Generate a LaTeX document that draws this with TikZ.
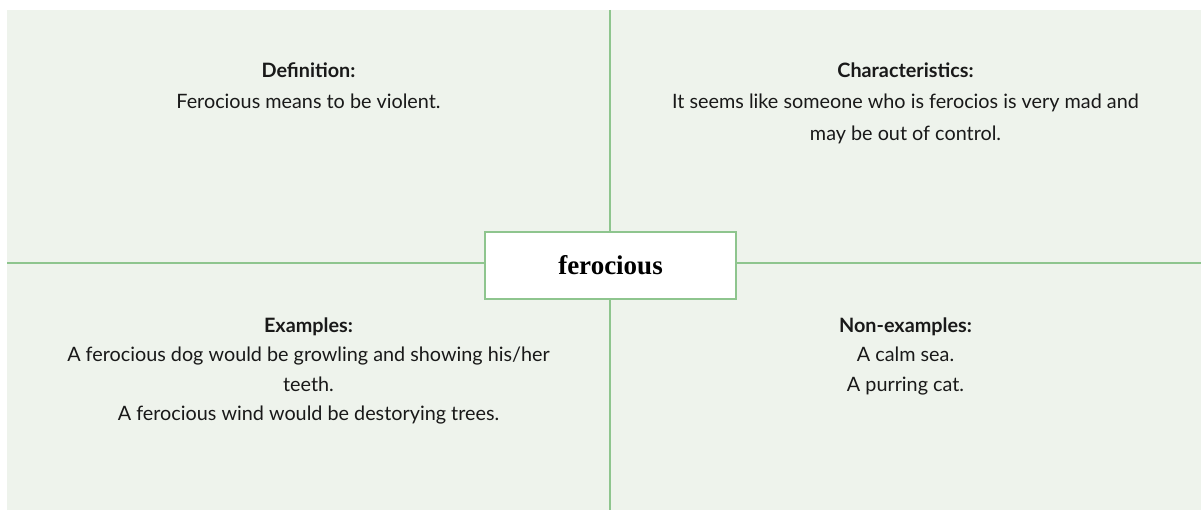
\documentclass[tikz,border=0pt]{standalone}
\usepackage{fontspec}
\setmainfont{Lato}
\newfontfamily\wordfont{Liberation Serif}
\definecolor{bgc}{HTML}{EEF3EC}
\definecolor{lnc}{HTML}{8EC58E}
\begin{document}
\begin{tikzpicture}[x=1pt,y=-1pt,
  txt/.style={align=center, inner sep=0pt, anchor=north, text=black!90},
  ln/.style={draw=lnc, line width=1.6pt}]
\useasboundingbox (0,0) rectangle (1201,510);
\fill[bgc] (7,10) rectangle (1201,510);
\coordinate (top) at (610,10);
\coordinate (bot) at (610,510);
\coordinate (lft) at (7,263);
\coordinate (rgt) at (1201,263);
\node[draw=lnc, line width=1.6pt, fill=white, minimum width=251pt, minimum height=67pt, inner sep=0pt] (word) at (610.5,265.5) {\wordfont\fontsize{27}{30}\selectfont\bfseries ferocious};
\draw[ln] (top) -- (top |- word.north);
\draw[ln] (bot |- word.south) -- (bot);
\draw[ln] (lft) -- (lft -| word.west);
\draw[ln] (rgt -| word.east) -- (rgt);
\node[txt, font=\fontsize{19.8}{31.5}\selectfont] (def) at (308.5,62.5) {\textbf{Definition:}\\Ferocious means to be violent.};
\node[txt, font=\fontsize{19.8}{31.5}\selectfont] (cha) at (905.5,62.5) {\textbf{Characteristics:}\\It seems like someone who is ferocios is very mad and\\may be out of control.};
\node[txt, font=\fontsize{19.8}{29.3}\selectfont] (exa) at (308.5,317.5) {\textbf{Examples:}\\A ferocious dog would be growling and showing his/her\\teeth.\\A ferocious wind would be destorying trees.};
\node[txt, font=\fontsize{19.8}{29.3}\selectfont] (non) at (905.5,317.5) {\textbf{Non-examples:}\\A calm sea.\\A purring cat.};
\end{tikzpicture}
\end{document}
